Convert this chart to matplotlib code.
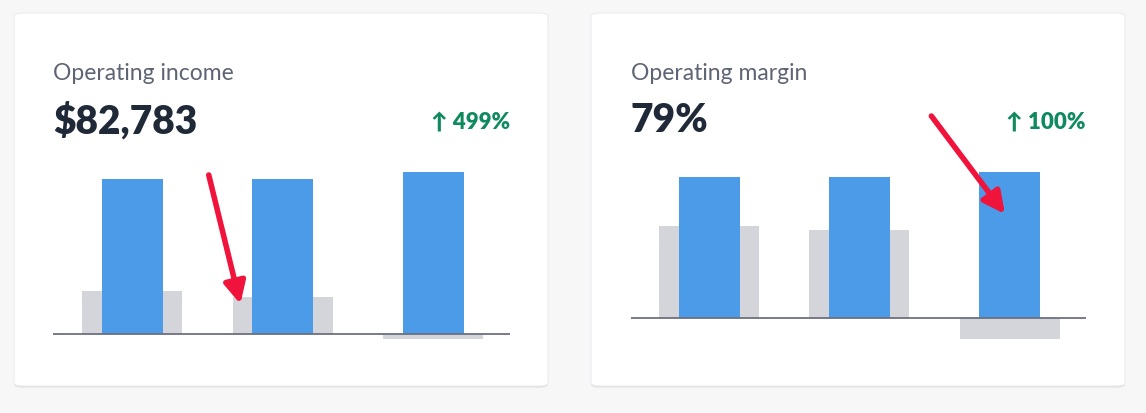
import matplotlib.pyplot as plt
from matplotlib.patches import FancyBboxPatch

# data
periods = [0, 1, 2]
income_current = [155, 155, 162]
income_previous = [43, 37, -5]
margin_current = [141, 141, 146]
margin_previous = [92, 88, -21]

W, H = 1146, 414
BLUE = "#4c9be8"
GRAY = "#d4d5da"
TITLE = "#5f6474"
DARK = "#1f2937"
GREEN = "#0f8a5f"
RED = "#f0143c"

fig = plt.figure(figsize=(W / 100, H / 100), dpi=100)
fig.patch.set_facecolor("#f7f7f8")
plt.rcParams["font.family"] = ["Lato", "DejaVu Sans"]


def px(x0, y0, x1, y1):
    return [x0 / W, 1 - y1 / H, (x1 - x0) / W, (y1 - y0) / H]


def card(x0, y0, x1, y1):
    for off, a in [(2, 0.05), (1, 0.06)]:
        fig.patches.append(FancyBboxPatch((x0 / W, 1 - (y1 + off) / H), (x1 - x0) / W, (y1 - y0) / H,
                                          boxstyle="round,pad=0,rounding_size=0.008", transform=fig.transFigure,
                                          facecolor="black", alpha=a, edgecolor="none", zorder=-2))
    fig.patches.append(FancyBboxPatch((x0 / W, 1 - y1 / H), (x1 - x0) / W, (y1 - y0) / H,
                                      boxstyle="round,pad=0,rounding_size=0.008", transform=fig.transFigure,
                                      facecolor="white", edgecolor="#ececef", lw=0.8, zorder=-1))


def panel(left, right, baseline, first_center, spacing, cur, prev, title, value, change, arrow):
    top, bottom = 162, 352
    ax = fig.add_axes(px(left, top, right, bottom))
    ax.set_xlim(-(first_center - left) / spacing, 2 + (right - first_center - 2 * spacing) / spacing)
    ax.set_ylim(-(bottom - baseline), baseline - top)
    ax.bar(periods, prev, width=100 / spacing, color=GRAY, zorder=1)
    ax.bar(periods, cur, width=61 / spacing, color=BLUE, zorder=2)
    ax.axhline(0, color="#6b7080", lw=1.3, zorder=3)
    ax.axis("off")
    (x0, y0), (x1, y1) = arrow
    ax.annotate("", xy=(x1, y1), xytext=(x0, y0), annotation_clip=False, zorder=5,
                arrowprops=dict(arrowstyle="-|>,head_length=1.3,head_width=0.65", color=RED, lw=4,
                                shrinkA=0, shrinkB=0))
    fig.text(left / W, 1 - 74 / H, title, fontsize=16.5, color=TITLE, va="center")
    fig.text(left / W, 1 - 121 / H, value, fontsize=28, color=DARK, weight="heavy", va="center")
    fig.text(right / W, 1 - 122 / H, change, fontsize=16, color=GREEN, weight="heavy", va="center", ha="right")


card(14, 14, 548, 387)
card(591, 14, 1125, 387)

panel(53, 510, 335, 132, 150.5, income_current, income_previous,
      "Operating income", "$82,783", "↑ 499%", ((0.51, 159), (0.72, 30)))
panel(631, 1086, 319, 709, 150.25, margin_current, margin_previous,
      "Operating margin", "79%", "↑ 100%", ((1.48, 202), (1.97, 104)))

fig.savefig("out.png", dpi=100, facecolor=fig.get_facecolor())
